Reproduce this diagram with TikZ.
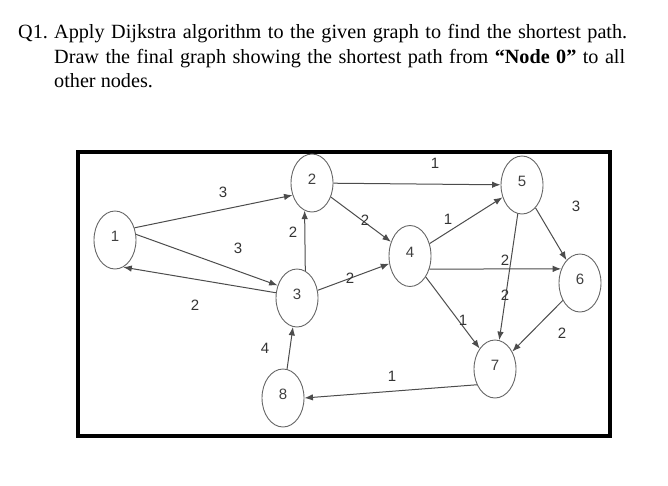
\documentclass[tikz,border=0pt]{standalone}
\usepackage{fontspec}
\setmainfont{Liberation Serif}
\setsansfont{Liberation Sans}
\usetikzlibrary{arrows.meta,shapes.geometric}

\begin{document}
\begin{tikzpicture}[x=1pt,y=-1pt,>={Latex[length=8.5pt,width=6.5pt]},
  vertex/.style={ellipse,draw=black!60,line width=0.9pt,minimum width=42pt,minimum height=58pt,
    inner sep=0pt,text depth=7pt,text=black!75,font=\sffamily\fontsize{15}{15}\selectfont},
  edge/.style={->,draw=black!70,line width=1pt},
  wt/.style={inner sep=0pt,text=black!80,font=\sffamily\fontsize{15}{15}\selectfont},
  qline/.style={anchor=base west,inner sep=0pt,font=\fontsize{20.2}{24}\selectfont}]
  \useasboundingbox (0,0) rectangle (668,485);
  % question
  \node[qline] (qnum) at (18,38) {Q1.};
  \node[qline] (qa) at (54,38) {\hbox to 573pt{Apply Dijkstra algorithm to the given graph to find the shortest path.}};
  \node[qline] (qb) at (54,63) {\hbox to 571pt{Draw the final graph showing the shortest path from \textbf{``Node 0''} to all}};
  \node[qline] (qc) at (54,87) {other nodes.};
  % frame
  \draw[line width=3.6pt] (78,152) rectangle (610,436);
  % vertices
  \node[vertex] (n1) at (115,240) {1};
  \node[vertex] (n2) at (312,183) {2};
  \node[vertex] (n3) at (297,298) {3};
  \node[vertex,minimum height=61pt] (n4) at (410,256) {4};
  \node[vertex] (n5) at (522,185) {5};
  \node[vertex] (n6) at (580,283) {6};
  \node[vertex] (n7) at (495,369) {7};
  \node[vertex] (n8) at (283,398) {8};
  % edges
  \draw[edge] (n1.32) -- (n2.212);
  \draw[edge] (n1.15) -- (n3.147);
  \draw[edge] (n3.166) -- (n1.287);
  \draw[edge] (n3.73) -- (n2.255);
  \draw[edge] (n2) -- (n5);
  \draw[edge] (n2) -- (n4);
  \draw[edge] (n3) -- (n4);
  \draw[edge] (n4) -- (n5);
  \draw[edge] (n4.-34) -- (n6.143);
  \draw[edge] (n5) -- (n6);
  \draw[edge] (n5) -- (n7);
  \draw[edge] (n4) -- (n7);
  \draw[edge] (n6) -- (n7);
  \draw[edge] (n7.221) -- (n8.east);
  \draw[edge] (n8) -- (n3);
  % weights
  \node[wt] (w12) at (223,192) {3};
  \node[wt] (w13) at (238,248) {3};
  \node[wt] (w31) at (195,305) {2};
  \node[wt] (w32) at (293,232) {2};
  \node[wt] (w25) at (435,163) {1};
  \node[wt] (w24) at (365,220) {2};
  \node[wt] (w34) at (350,278) {2};
  \node[wt] (w45) at (448,219) {1};
  \node[wt] (w46) at (505,260) {2};
  \node[wt] (w56) at (576,206) {3};
  \node[wt] (w57) at (505,295) {2};
  \node[wt] (w47) at (463,320) {1};
  \node[wt] (w67) at (562,333) {2};
  \node[wt] (w78) at (392,376) {1};
  \node[wt] (w83) at (265,348) {4};
\end{tikzpicture}
\end{document}
